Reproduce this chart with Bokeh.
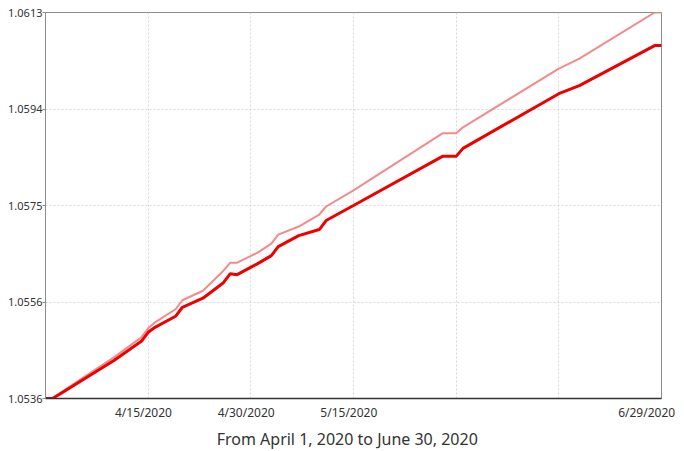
from datetime import datetime
import pandas as pd
from bokeh.plotting import figure
from bokeh.models import Range1d, FixedTicker, CustomJSTickFormatter
from bokeh.embed import file_html
from bokeh.resources import INLINE

# ---- data ----
dates = ["2020-03-31", "2020-04-01", "2020-04-02", "2020-04-06", "2020-04-10",
         "2020-04-14", "2020-04-15", "2020-04-16", "2020-04-19", "2020-04-20",
         "2020-04-23", "2020-04-26", "2020-04-27", "2020-04-28", "2020-05-01",
         "2020-05-03", "2020-05-04", "2020-05-07", "2020-05-10", "2020-05-11",
         "2020-05-15", "2020-05-28", "2020-05-30", "2020-05-31", "2020-06-14",
         "2020-06-17", "2020-06-28", "2020-06-29"]
light_series = [1.05360, 1.05360, 1.05370, 1.05406, 1.05442,
                1.05482, 1.05500, 1.05512, 1.05538, 1.05556,
                1.05575, 1.05615, 1.05631, 1.05631, 1.05651,
                1.05669, 1.05687, 1.05703, 1.05727, 1.05743,
                1.05775, 1.05889, 1.05889, 1.05901, 1.06018,
                1.06038, 1.06130, 1.06130]
dark_series = [1.05360, 1.05360, 1.05368, 1.05402, 1.05436,
               1.05474, 1.05492, 1.05502, 1.05524, 1.05542,
               1.05560, 1.05591, 1.05609, 1.05607, 1.05629,
               1.05645, 1.05663, 1.05685, 1.05697, 1.05715,
               1.05745, 1.05843, 1.05843, 1.05859, 1.05968,
               1.05984, 1.06064, 1.06064]
y_min, y_max = 1.0536, 1.0613
y_tick_labels = ["1.0536", "1.0556", "1.0575", "1.0594", "1.0613"]
grid_dates = ["2020-04-15", "2020-04-30", "2020-05-15", "2020-05-30", "2020-06-14", "2020-06-29"]
labeled_dates = ["2020-04-15", "2020-04-30", "2020-05-15", "2020-06-29"]
axis_title = "From April  1, 2020 to June 30, 2020"

x = pd.to_datetime(dates)

def ms(s):
    return float(pd.Timestamp(s).value / 1e6)

p = figure(frame_width=616, frame_height=386, x_axis_type="datetime",
           x_range=Range1d(start=datetime(2020, 3, 31), end=datetime(2020, 6, 29)),
           y_range=Range1d(y_min, y_max),
           output_backend="svg", toolbar_location=None,
           min_border_left=45, min_border_right=23, min_border_top=12, min_border_bottom=53,
           background_fill_color="white", border_fill_color="white")

p.outline_line_color = "#8c8c8c"
p.outline_line_width = 1

p.line(x, light_series, line_color="#f28b8b", line_width=2)
p.line(x, dark_series, line_color="#ee0000", line_width=3)

# y axis
step = (y_max - y_min) / 4
yticks = [y_min + i * step for i in range(5)]
p.yaxis.ticker = FixedTicker(ticks=yticks)
p.yaxis.major_label_overrides = {t: l for t, l in zip(yticks, y_tick_labels)}
p.yaxis.axis_line_color = "#8c8c8c"
p.yaxis.major_tick_line_color = "#8c8c8c"
p.yaxis.major_tick_out = 3
p.yaxis.major_tick_in = 0
p.yaxis.minor_tick_line_color = None
p.yaxis.major_label_standoff = 0
p.yaxis.major_label_text_font = "Noto Sans"
p.yaxis.major_label_text_font_size = "11px"
p.yaxis.major_label_text_color = "#333333"

# x axis (labels sit a little left of their ticks in the reference)
p.xaxis.ticker = FixedTicker(ticks=[ms(d) for d in labeled_dates])
p.xaxis.formatter = CustomJSTickFormatter(args=dict(last=ms(labeled_dates[-1])), code="""
const d = new Date(tick);
let s = (d.getUTCMonth()+1) + "/" + d.getUTCDate() + "/" + d.getUTCFullYear();
return s + "\\u00a0".repeat(3);
""")
p.xaxis.axis_line_color = "#333333"
p.xaxis.axis_line_width = 1.5
p.xaxis.major_tick_line_color = None
p.xaxis.major_tick_out = 0
p.xaxis.major_tick_in = 0
p.xaxis.minor_tick_line_color = None
p.xaxis.minor_tick_out = 0
p.xaxis.major_label_standoff = 5
p.xaxis.major_label_text_font = "Noto Sans"
p.xaxis.major_label_text_font_size = "12px"
p.xaxis.major_label_text_color = "#333333"
p.xaxis.axis_label = axis_title + "\u00a0\u00a0"
p.xaxis.axis_label_text_font = "Noto Sans"
p.xaxis.axis_label_text_font_size = "16px"
p.xaxis.axis_label_text_font_style = "normal"
p.xaxis.axis_label_text_color = "#333333"
p.xaxis.axis_label_standoff = 4

# grids
p.xgrid.ticker = FixedTicker(ticks=[ms(d) for d in grid_dates])
p.xgrid.grid_line_color = "#d8d8d8"
p.xgrid.grid_line_dash = "2 2"
p.ygrid.ticker = FixedTicker(ticks=yticks[1:-1])
p.ygrid.grid_line_color = "#d8d8d8"
p.ygrid.grid_line_dash = "2 2"

open("out.html", "w").write(file_html(p, INLINE))
